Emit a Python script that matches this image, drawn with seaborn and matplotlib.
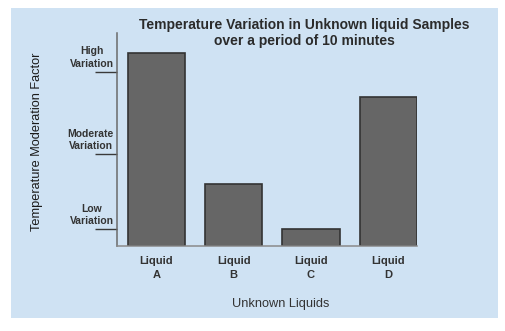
import matplotlib
matplotlib.use("Agg")
import matplotlib.pyplot as plt
from matplotlib.patches import Rectangle
import matplotlib.transforms as mtransforms
import seaborn as sns
import pandas as pd

# Data
liquids = ["Liquid\nA", "Liquid\nB", "Liquid\nC", "Liquid\nD"]
moderation = [90.8, 29.1, 7.8, 70.0]
level_labels = ["Low\nVariation", "Moderate\nVariation", "High\nVariation"]
level_values = [7.8, 43.0, 81.7]

title = "Temperature Variation in Unknown liquid Samples\nover a period of 10 minutes"
x_label = "Unknown Liquids"
y_label = "Temperature Moderation Factor"

df = pd.DataFrame({"liquid": liquids, "factor": moderation})

sns.set_theme(style="white")
plt.rcParams["font.family"] = ["Liberation Sans", "DejaVu Sans"]

W, H = 506, 331
fig = plt.figure(figsize=(W / 100, H / 100), dpi=100)
fig.patch.set_facecolor("white")

# light blue panel behind the chart
panel = Rectangle((11 / W, 1 - 317.5 / H), 487 / W, 309.5 / H,
                  transform=fig.transFigure, facecolor="#cfe2f3",
                  edgecolor="none", zorder=-10)
fig.patches.append(panel)

ax = fig.add_axes([117 / W, 1 - 246 / H, 300 / W, 213 / H])
ax.set_facecolor("none")
ax.set_zorder(5)

sns.barplot(data=df, x="liquid", y="factor", ax=ax, color="#666666",
            saturation=1, width=0.744, edgecolor="#333333", linewidth=1.2)

ax.set_xlim(-0.51, 3.372)
ax.set_ylim(0, 100)

for side in ("top", "right"):
    ax.spines[side].set_visible(False)
ax.spines["left"].set_color("#6a6a6a")
ax.spines["left"].set_linewidth(1.1)
ax.spines["bottom"].set_color("#8a8a8a")
ax.spines["bottom"].set_linewidth(1.1)

ax.set_xlabel("")
ax.set_ylabel("")
ax.tick_params(axis="x", length=0, pad=7.5)
for lbl in ax.get_xticklabels():
    lbl.set_fontweight("bold")
    lbl.set_fontsize(8)
    lbl.set_color("#333333")
    lbl.set_linespacing(1.4)

# y ticks act as short underlines beneath the level labels
ax.set_yticks(level_values)
ax.set_yticklabels([])
ax.tick_params(axis="y", direction="out", length=16, width=1.0,
               color="#3a3a3a", left=True)

trans = mtransforms.blended_transform_factory(ax.transAxes, ax.transData)
for txt, val in zip(level_labels, level_values):
    ax.text(-0.01, val + 1.6, txt, transform=trans, ha="right", va="bottom",
            fontsize=7.5, fontweight="bold", color="#333333",
            multialignment="center", linespacing=1.3, clip_on=False)

fig.text(304 / W, 1 - 33 / H, title, ha="center", va="center",
         fontsize=10, fontweight="bold", color="#2b2b2b", linespacing=1.2)
fig.text(280.5 / W, 1 - 307 / H, x_label, ha="center", va="baseline",
         fontsize=9.2, color="#333333")
fig.text(37.5 / W, 1 - 142 / H, y_label, ha="center", va="center",
         rotation=90, fontsize=9.2, color="#1a1a1a")

fig.savefig("out.png", dpi=100)
